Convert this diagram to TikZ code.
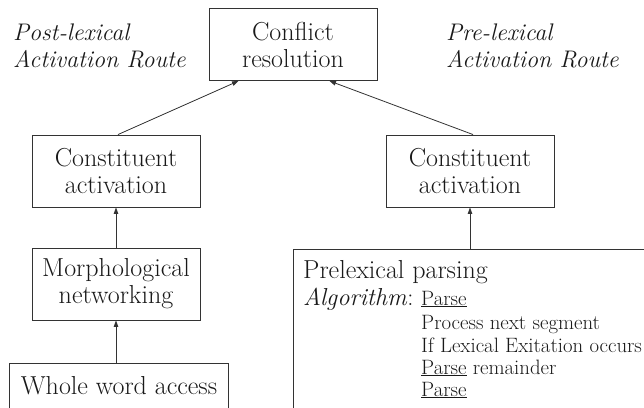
\documentclass[tikz,border=0pt]{standalone}
\usepackage{fontspec}
\usetikzlibrary{arrows.meta,calc}
\begin{document}
\begin{tikzpicture}[x=1pt,y=-1pt,
  line/.style={draw=black!80, line width=0.9pt},
  box/.style={line, inner sep=0pt, align=center, minimum width=168pt, minimum height=72pt,
    font=\fontsize{26}{27}\selectfont, text=black!90},
  frame/.style={inner sep=0pt, font=\fontsize{26}{27}\selectfont, text=black!90},
  conn/.style={line, line width=0.8pt, -{Triangle[length=6.5pt,width=4.5pt]}},
  lab/.style={inner sep=0pt, anchor=base west, font=\fontsize{24}{27}\selectfont\itshape, text=black!90},
  big/.style={inner sep=0pt, anchor=base west, font=\fontsize{26}{27}\selectfont, text=black!90},
  small/.style={inner sep=0pt, anchor=base west, font=\fontsize{20.8}{22}\selectfont, text=black!90}]
\useasboundingbox (0,0) rectangle (644,407);
\clip (0,0) rectangle (644,407);

% side labels
\node[lab] (postA) at (13,40) {Post-lexical};
\node[lab] (postB) at (13,67) {Activation Route};
\node[lab] (preA) at (446,40) {Pre-lexical};
\node[lab] (preB) at (446,67) {Activation Route};

% boxes
\node[box] (conflict) at (293,44.5) {Conflict\\resolution};
\node[box] (constL) at (116,171) {Constituent\\activation};
\node[box] (morph) at (116,284) {Morphological\\networking};
\node[box] (constR) at (470,171) {Constituent\\activation};

% open boxes
\node[frame, anchor=north, minimum width=218pt, text height=31pt, text depth=30pt] (whole) at (119,363) {Whole word access};
\draw[line] (whole.south west) -- (whole.north west) -- (whole.north east) -- (whole.south east);

\node[frame, anchor=north west, minimum width=400pt, minimum height=200pt] (pre) at (293,249) {};
\draw[line] (pre.south west) -- (pre.north west) -- (pre.north east);

% prelexical text
\node[big] (p1) at (303,278) {Prelexical parsing};
\node[big, font=\fontsize{24.5}{27}\selectfont] (p2) at (303,305) {\textit{Algorithm}:};
\node[small] (p3) at (421,305) {\underline{Parse}};
\node[small] (p4) at (421,329) {Process next segment};
\node[small] (p5) at (421,352) {If Lexical Exitation occurs};
\node[small] (p6) at (421,374) {\underline{Parse} remainder};
\node[small] (p7) at (421,396) {\underline{Parse}};

% connectors
\draw[conn] (whole.north -| morph.south) -- (morph.south);
\draw[conn] (morph.north) -- (constL.south);
\draw[conn] (constR.south |- pre.north) -- (constR.south);
\draw[conn] ([xshift=2pt]constL.north) -- ([xshift=30pt]conflict.south west);
\draw[conn] ([xshift=3pt]constR.north) -- ([xshift=-48pt]conflict.south east);
\end{tikzpicture}
\end{document}
